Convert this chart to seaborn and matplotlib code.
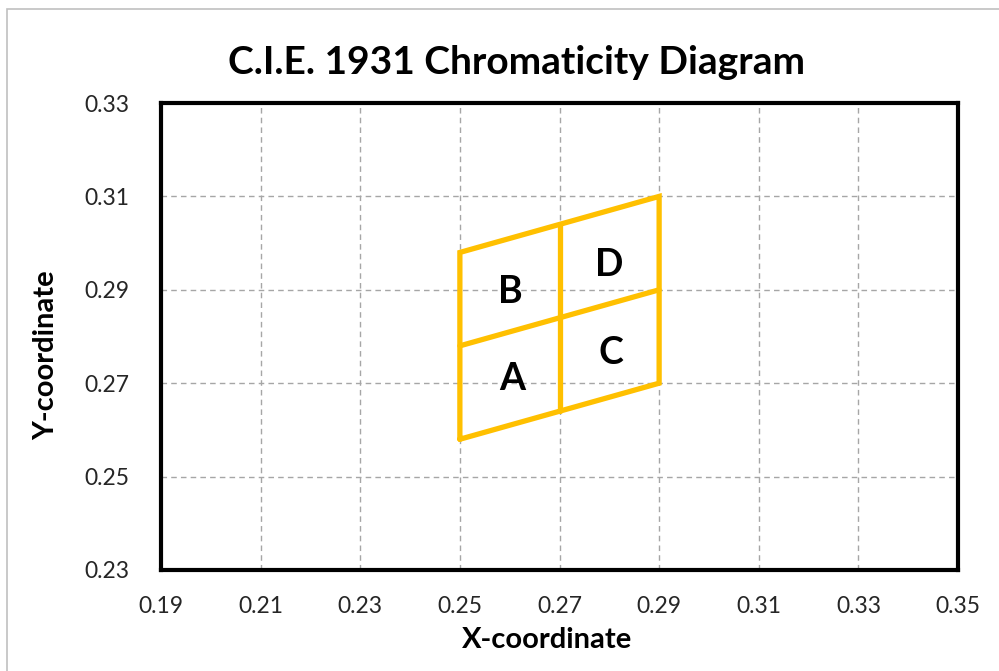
import matplotlib
matplotlib.use("Agg")
import matplotlib.pyplot as plt
import seaborn as sns
import pandas as pd
from matplotlib.patches import Rectangle

# Data
seg_outer_x = [0.25, 0.25, 0.29, 0.29, 0.25]
seg_outer_y = [0.258, 0.298, 0.31, 0.27, 0.258]
seg_vert_x = [0.27, 0.27]
seg_vert_y = [0.264, 0.304]
seg_horz_x = [0.25, 0.27, 0.29]
seg_horz_y = [0.278, 0.284, 0.29]

labels = ["A", "B", "C", "D"]
label_x = [0.2605, 0.2601, 0.2803, 0.2800]
label_y = [0.2710, 0.2896, 0.2765, 0.2953]

x_ticks = [0.19, 0.21, 0.23, 0.25, 0.27, 0.29, 0.31, 0.33, 0.35]
y_ticks = [0.23, 0.25, 0.27, 0.29, 0.31, 0.33]

rows = []
for sid, (xs, ys) in enumerate([(seg_outer_x, seg_outer_y), (seg_vert_x, seg_vert_y), (seg_horz_x, seg_horz_y)]):
    for i, (x, y) in enumerate(zip(xs, ys)):
        rows.append({"seg": sid, "order": i, "x": x, "y": y})
df = pd.DataFrame(rows)

sns.set_theme(style="white")
plt.rcParams['font.family'] = ['Lato', 'DejaVu Sans']

fig = plt.figure(figsize=(9.99, 6.71), dpi=100)
ax = fig.add_axes([161/999, 1-570/671, (958-161)/999, (570-103)/671])

sns.lineplot(data=df, x="x", y="y", units="seg", estimator=None, sort=False,
             color="#FFC000", linewidth=3.8, ax=ax, solid_joinstyle="miter")

for t, x, y in zip(labels, label_x, label_y):
    ax.text(x, y, t, ha="center", va="center", fontsize=27, fontweight="bold", color="black")

ax.set_xlim(0.19, 0.35)
ax.set_ylim(0.23, 0.33)
ax.set_xticks(x_ticks)
ax.set_yticks(y_ticks)
ax.set_xticklabels([f"{v:.2f}" for v in x_ticks])
ax.set_yticklabels([f"{v:.2f}" for v in y_ticks])
ax.tick_params(axis="both", length=0, labelsize=16.5, colors="#262626")
ax.tick_params(axis="x", pad=19)
ax.tick_params(axis="y", pad=23)
ax.grid(True, linestyle=(0, (4, 3)), color="#A6A6A6", linewidth=1)
ax.set_axisbelow(True)
for s in ax.spines.values():
    s.set_visible(True)
    s.set_color("black")
    s.set_linewidth(3)
ax.set_xlabel("")
ax.set_ylabel("")

fig.text(516/999, 1-63/671, "C.I.E. 1931 Chromaticity Diagram", ha="center", va="center",
         fontsize=28, fontweight="bold", color="black")
fig.text(547/999, 1-640/671, "X-coordinate", ha="center", va="center",
         fontsize=21, fontweight="bold", color="black")
fig.text(46/999, 1-355/671, "Y-coordinate", ha="center", va="center", rotation=90,
         fontsize=21, fontweight="bold", color="black")

fig.patches.append(Rectangle((7/999, -0.1), 1.2, 1-9/671+0.1, transform=fig.transFigure,
                             fill=False, edgecolor="#C0C0C0", linewidth=1.2))

fig.savefig("out.png", dpi=100)
